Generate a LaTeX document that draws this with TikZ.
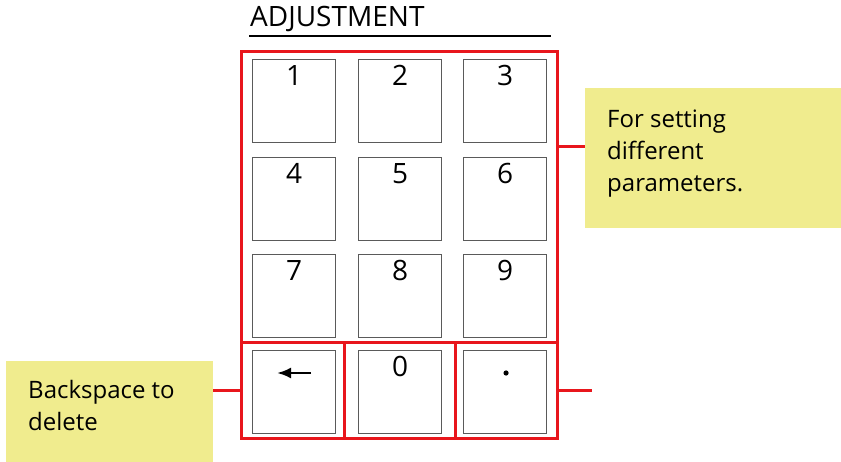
\documentclass[tikz,border=0pt]{standalone}
\usepackage{fontspec}
\setmainfont{Open Sans}
\usetikzlibrary{arrows.meta,positioning,calc}
\definecolor{framered}{RGB}{232,22,28}
\definecolor{noteyellow}{RGB}{240,236,142}
\definecolor{keygray}{RGB}{90,90,90}

\begin{document}
\begin{tikzpicture}[x=1pt,y=-1pt,>=Latex,
 key/.style={draw=keygray,line width=1.1pt,minimum width=83pt,minimum height=83pt,inner sep=0pt,anchor=north west},
 digit/.style={font=\fontsize{28}{34}\selectfont,inner sep=0pt,anchor=north},
 redframe/.style={draw=framered,line width=3pt,inner sep=0pt,outer sep=0pt,anchor=north west},
 note/.style={fill=noteyellow,inner sep=0pt,outer sep=0pt,anchor=north west},
 notetext/.style={font=\fontsize{24}{32}\selectfont,align=left,inner sep=0pt,anchor=north west},
 redline/.style={draw=framered,line width=3pt}]
\useasboundingbox (0,0) rectangle (841,462);
% title
\node[font=\fontsize{28}{34}\selectfont,inner sep=0pt,anchor=base west] (title) at (250,27) {ADJUSTMENT};
\coordinate (ulL) at (249,36);
\coordinate (ulR) at (551,36);
\draw[line width=2.6pt] (ulL) -- (ulR);
% red frames
\node[redframe,minimum width=316pt,minimum height=291pt] (digits) at (241,52) {};
\node[redframe,minimum width=103pt,minimum height=95pt] (bsbox) at (241,343) {};
\node[redframe,minimum width=102pt,minimum height=95pt] (dotbox) at (455,343) {};
\draw[redline] (bsbox.south east) -- (dotbox.south west);
% keys
\foreach \lab/\x/\y in {1/252/59,2/358/59,3/463/59,4/252/157,5/358/157,6/463/157,
 7/252/254,8/358/254,9/463/254,0/358/350}{
 \node[key] (k\lab) at (\x,\y) {};
 \node[digit] (d\lab) at ([yshift=-6pt]k\lab.north) {\lab};
}
\node[key] (kbs) at (252,350) {};
\node[key] (kdot) at (463,350) {};
\draw[->,line width=2.4pt,>={Latex[length=14pt,width=11pt]}] ($(kbs.north)+(17,23)$) -- ($(kbs.north)+(-17,23)$);
\fill ($(kdot.north)+(1,23)$) circle (2.6);
% notes
\node[note,minimum width=256pt,minimum height=140pt] (setnote) at (585,88) {};
\node[note,minimum width=207pt,minimum height=101pt] (bsnote) at (6,361) {};
\node[notetext] (settext) at ([xshift=22pt,yshift=-22pt]setnote.north west) {For setting\\different\\parameters.};
\node[notetext] (bstext) at ([xshift=22pt,yshift=-19pt]bsnote.north west) {Backspace to\\delete};
% connectors
\coordinate (setpin) at ($(setnote.north west)!.42!(setnote.south west)$);
\draw[redline] (digits.east |- setpin) -- (setpin);
\draw[redline] (bsbox.west) -- (bsnote.east |- bsbox.west);
\coordinate (dotend) at ($(dotbox.east)+(35,0)$);
\draw[redline] (dotbox.east) -- (dotend);
\end{tikzpicture}
\end{document}
